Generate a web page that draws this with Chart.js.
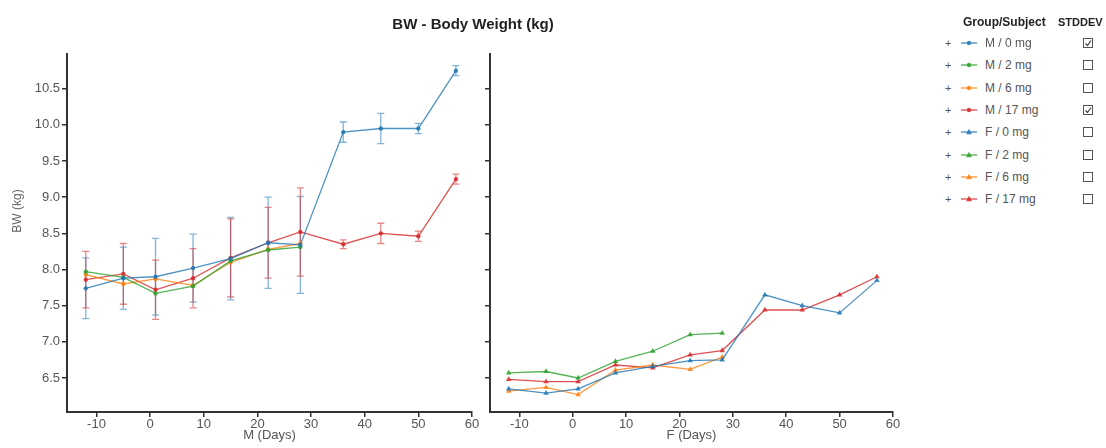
<!DOCTYPE html>
<html>
<head>
<meta charset="utf-8">
<script src="https://cdn.jsdelivr.net/npm/chart.js@4/dist/chart.umd.min.js"></script>
<style>
  body { margin: 0; width: 1106px; height: 448px; background: #fff; position: relative; overflow: hidden;
         font-family: "Liberation Sans", Arial, sans-serif; }
  canvas { position: absolute; top: 0; }
  #chartM { left: 0; }
  #chartF { left: 470px; }
  #title { position: absolute; left: 323px; width: 300px; top: 15px; line-height: 18px; text-align: center;
           font-weight: bold; font-size: 15px; color: #222; }
  #ytitle { position: absolute; left: -33px; top: 204px; width: 100px; line-height: 14px; text-align: center;
            font-size: 12px; color: #666; transform: rotate(-90deg); }
  .hdr { position: absolute; top: 14px; line-height: 16px; font-weight: bold; font-size: 12px; color: #222; }
  .row { position: absolute; left: 0; height: 16px; }
  .plus { position: absolute; left: 945px; font-size: 11px; color: #555; line-height: 16px; }
  .icon { position: absolute; left: 961px; top: 3px; }
  .lbl { position: absolute; left: 985px; font-size: 12px; color: #555; line-height: 16px; white-space: nowrap; }
  .box { position: absolute; left: 1083px; top: 3px; }
</style>
</head>
<body>
<canvas id="chartM" width="490" height="448"></canvas>
<canvas id="chartF" width="440" height="448"></canvas>
<div id="title">BW - Body Weight (kg)</div>
<div id="ytitle">BW (kg)</div>
<div class="hdr" style="left:963px">Group/Subject</div>
<div class="hdr" style="left:1058px;font-size:11px">STDDEV</div>
<div id="legend"></div>
<script>
"use strict";
// study days
const days = [-12, -5, 1, 8, 15, 22, 28, 36, 43, 50, 57];

// males, mean body weight (kg) and std dev
const m0mg = [7.74, 7.88, 7.90, 8.02, 8.15, 8.37, 8.34, 9.90, 9.95, 9.95, 10.75];
const m0mgSd = [0.42, 0.43, 0.53, 0.47, 0.57, 0.63, 0.67, 0.14, 0.21, 0.07, 0.07];
const m2mg = [7.97, 7.89, 7.67, 7.77, 8.12, 8.27, 8.31];
const m6mg = [7.93, 7.80, 7.87, 7.78, 8.10, 8.28, 8.36];
const m17mg = [7.86, 7.94, 7.72, 7.88, 8.16, 8.37, 8.52, 8.35, 8.50, 8.46, 9.25];
const m17mgSd = [0.39, 0.42, 0.41, 0.41, 0.54, 0.49, 0.61, 0.06, 0.14, 0.07, 0.07];

// females, mean body weight (kg)
const f0mg = [6.35, 6.29, 6.35, 6.57, 6.66, 6.74, 6.75, 7.65, 7.50, 7.40, 7.85];
const f2mg = [6.57, 6.59, 6.50, 6.73, 6.87, 7.10, 7.12];
const f6mg = [6.32, 6.37, 6.27, 6.61, 6.68, 6.62, 6.79];
const f17mg = [6.48, 6.45, 6.45, 6.68, 6.64, 6.82, 6.88, 7.44, 7.44, 7.65, 7.90];

const yTicks = [6.5, 7.0, 7.5, 8.0, 8.5, 9.0, 9.5, 10.0, 10.5];
const xTicks = [-10, 0, 10, 20, 30, 40, 50, 60];

const groupNames = ['M / 0 mg', 'M / 2 mg', 'M / 6 mg', 'M / 17 mg', 'F / 0 mg', 'F / 2 mg', 'F / 6 mg', 'F / 17 mg'];
const stddevOn = [true, false, false, true, false, false, false, false];

const colors = ['#1f77b4', '#2ca02c', '#ff7f0e', '#d62728'];
function rgba(hex, a) {
    let n = parseInt(hex.slice(1), 16);
    return 'rgba(' + (n >> 16) + ',' + ((n >> 8) & 255) + ',' + (n & 255) + ',' + a + ')';
}

function series(label, values, sd, color, marker) {
    return {
        label: label,
        data: values.map((v, i) => ({x: days[i], y: v})),
        sd: sd,
        barColor: rgba(color, 0.55),
        borderColor: rgba(color, 0.8),
        backgroundColor: rgba(color, 0.8),
        pointBackgroundColor: rgba(color, 0.85),
        pointBorderColor: rgba(color, 0.85),
        pointBorderWidth: 0,
        pointStyle: marker,
        pointRadius: marker == 'triangle' ? 3.2 : 2.2,
        borderWidth: 1.3,
        tension: 0,
        fill: false
    };
}

// vertical std dev whiskers with caps
const errorBars = {
    id: 'errorBars',
    beforeDatasetsDraw(chart) {
        const ctx = chart.ctx;
        const ys = chart.scales.y;
        chart.data.datasets.forEach((ds, i) => {
            if (!ds.sd) return;
            const meta = chart.getDatasetMeta(i);
            ctx.save();
            ctx.strokeStyle = ds.barColor;
            ctx.lineWidth = 1.3;
            meta.data.forEach((pt, j) => {
                const v = ds.data[j].y, s = ds.sd[j];
                const top = ys.getPixelForValue(v + s), bot = ys.getPixelForValue(v - s);
                ctx.beginPath();
                ctx.moveTo(pt.x, top); ctx.lineTo(pt.x, bot);
                ctx.moveTo(pt.x - 3.5, top); ctx.lineTo(pt.x + 3.5, top);
                ctx.moveTo(pt.x - 3.5, bot); ctx.lineTo(pt.x + 3.5, bot);
                ctx.stroke();
            });
            ctx.restore();
        });
    }
};

const font = {family: 'Liberation Sans', size: 13};

function makeChart(id, datasets, xTitle, showY, yWidth, padRight) {
    return new Chart(document.getElementById(id), {
        type: 'line',
        data: {datasets: datasets},
        plugins: [errorBars],
        options: {
            responsive: false,
            animation: false,
            devicePixelRatio: 1,
            layout: {padding: {top: 54, right: padRight, bottom: 0, left: 0}},
            plugins: {legend: {display: false}, tooltip: {enabled: false}},
            scales: {
                x: {
                    type: 'linear', min: -15.5, max: 60,
                    afterBuildTicks: s => { s.ticks = xTicks.map(v => ({value: v})); },
                    afterFit: s => { s.height = 36; },
                    ticks: {color: '#555', font: font, padding: 0, maxRotation: 0, autoSkip: false,
                            callback: v => String(v)},
                    grid: {drawOnChartArea: false, drawTicks: true, tickLength: 5, color: '#333', lineWidth: 1.5},
                    border: {color: '#333', width: 2},
                    title: {display: true, text: xTitle, color: '#555', font: font, padding: {top: 0, bottom: 5}}
                },
                y: {
                    type: 'linear', min: 6.03, max: 10.98,
                    afterBuildTicks: s => { s.ticks = yTicks.map(v => ({value: v})); },
                    afterFit: s => { s.width = yWidth; },
                    ticks: {color: '#555', font: font, padding: 2,
                            callback: v => showY ? v.toFixed(1) : ''},
                    grid: {drawOnChartArea: false, drawTicks: true, tickLength: 5, color: '#333', lineWidth: 1.5},
                    border: {color: '#333', width: 2}
                }
            }
        }
    });
}

makeChart('chartM', [
    series('M / 0 mg', m0mg, m0mgSd, colors[0], 'circle'),
    series('M / 2 mg', m2mg, null, colors[1], 'circle'),
    series('M / 6 mg', m6mg, null, colors[2], 'circle'),
    series('M / 17 mg', m17mg, m17mgSd, colors[3], 'circle')
], 'M (Days)', true, 67, 18);

makeChart('chartF', [
    series('F / 0 mg', f0mg, null, colors[0], 'triangle'),
    series('F / 2 mg', f2mg, null, colors[1], 'triangle'),
    series('F / 6 mg', f6mg, null, colors[2], 'triangle'),
    series('F / 17 mg', f17mg, null, colors[3], 'triangle')
], 'F (Days)', false, 20, 17);

// legend with std dev boxes
let html = '';
groupNames.forEach((name, i) => {
    const c = rgba(colors[i % 4], 0.85);
    const marker = i < 4
        ? '<circle cx="8" cy="5" r="2.2" fill="' + c + '"/>'
        : '<path d="M8 1.8 L11 7.2 L5 7.2 Z" fill="' + c + '"/>';
    const check = stddevOn[i] ? '<path d="M2.5 5.5 L4.5 7.5 L8 2.5" stroke="#444" stroke-width="1.2" fill="none"/>' : '';
    const top = 35 + i * 22.3;
    html += '<div class="row" style="top:' + top + 'px">' +
        '<span class="plus">+</span>' +
        '<svg class="icon" width="17" height="10"><line x1="0" y1="5" x2="16" y2="5" stroke="' + c + '" stroke-width="1.3"/>' + marker + '</svg>' +
        '<span class="lbl">' + name + '</span>' +
        '<svg class="box" width="11" height="11"><rect x="0.5" y="0.5" width="9" height="9" fill="#fff" stroke="#555"/>' + check + '</svg>' +
        '</div>';
});
document.getElementById('legend').innerHTML = html;
</script>
</body>
</html>
